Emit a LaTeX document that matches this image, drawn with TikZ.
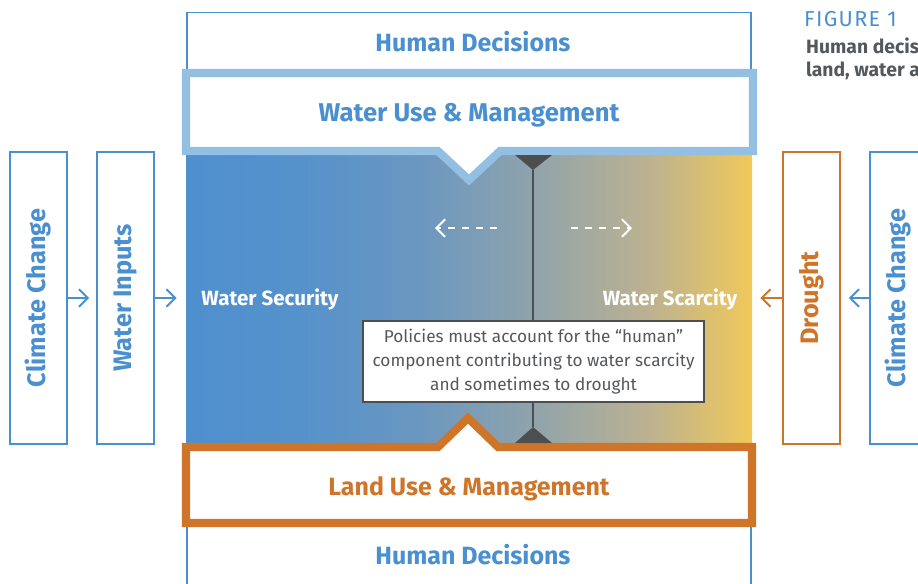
\documentclass[tikz,border=0pt]{standalone}
\usepackage{fontspec}
\setmainfont{Fira Sans}
\usetikzlibrary{arrows.meta}

\definecolor{cblue}{HTML}{4A8FCF}
\definecolor{lblue}{HTML}{93BFE3}
\definecolor{corange}{HTML}{CF752A}
\definecolor{dgrey}{HTML}{4D4E50}
\definecolor{tgrey}{HTML}{55585B}
\definecolor{shA}{HTML}{4E8FCE}
\definecolor{shB}{HTML}{5592CB}
\definecolor{shC}{HTML}{6A97C0}
\definecolor{shD}{HTML}{8FA3AC}
\definecolor{shE}{HTML}{BDB290}
\definecolor{shF}{HTML}{F0C95A}

\newcommand\pxu{0.02cm}
\pgfdeclarehorizontalshading{waterfield}{100bp}{color(0bp)=(shA); color(25bp)=(shA); color(35bp)=(shB); color(45.5bp)=(shC); color(55.5bp)=(shD); color(66bp)=(shE); color(75bp)=(shF); color(100bp)=(shF)}

\tikzset{
  decbox/.style={draw=cblue, line width=1.1pt, fill=white, minimum width=564*\pxu},
  sidebox/.style={draw=#1, line width=1.1pt, fill=white, rotate=90, minimum width=292*\pxu, minimum height=57*\pxu, inner sep=0pt, text=#1, font=\fontsize{14.4}{17}\selectfont\bfseries},
  sidearrow/.style={draw=#1, line width=1.1pt, -{Straight Barb[length=5pt, width=10pt, line width=1.1pt]}},
  mgmt/.style={line width=4.6pt, fill=white, line join=miter},
  mgmtlabel/.style={text=#1, font=\fontsize{14.6}{17}\selectfont\bfseries},
  fieldlabel/.style={text=white, font=\fontsize{11.7}{14}\selectfont\bfseries},
  shiftarrow/.style={draw=white, line width=1.1pt, dash pattern=on 4pt off 4pt, -{Straight Barb[length=5pt, width=10pt, line width=1.1pt]}},
  note/.style={draw=dgrey, line width=1.1pt, fill=white, text=tgrey, align=center, minimum width=341*\pxu, minimum height=81*\pxu, font=\fontsize{9.8}{13.5}\selectfont}
}

\begin{document}
\begin{tikzpicture}[x=\pxu, y=-\pxu]
\useasboundingbox (0,0) rectangle (918,583);
\clip (0,0) rectangle (918,583);

\node[shade, shading=waterfield, minimum width=566*\pxu, minimum height=292*\pxu, inner sep=0pt] (field) at (469,298) {};

\node[decbox, minimum height=67*\pxu] (decTop) at (469,46) {};
\node[decbox, minimum height=70*\pxu] (decBot) at (469,558) {};
\node[mgmtlabel=cblue, font=\fontsize{14.2}{17}\selectfont\bfseries] (decTopText) at (473,42) {Human Decisions};
\node[mgmtlabel=cblue, font=\fontsize{14.2}{17}\selectfont\bfseries] (decBotText) at (473,555) {Human Decisions};

\draw[mgmt, draw=lblue] (186,73) -- (753,73) -- (753,151) -- (500,151) -- (469,180) -- (438,151) -- (186,151) -- cycle;
\node[mgmtlabel=cblue] (waterUse) at (469,115) {Water Use \& Management};

\draw[mgmt, draw=corange] (186,447) -- (438,447) -- (468,418) -- (498,447) -- (752,447) -- (752,523) -- (186,523) -- cycle;
\node[mgmtlabel=corange, font=\fontsize{14.2}{17}\selectfont\bfseries] (landUse) at (469,489) {Land Use \& Management};

\coordinate (pivTop) at (533,170);
\coordinate (pivBot) at (533,427);
\fill[dgrey] (515,155) -- (552,155) -- (pivTop) -- cycle;
\fill[dgrey] (515,443) -- (552,443) -- (pivBot) -- cycle;
\draw[dgrey, line width=1.3pt] (pivTop) -- (pivBot);

\coordinate (secA) at (497,228);
\coordinate (secB) at (435,228);
\coordinate (scaA) at (571,228);
\coordinate (scaB) at (632,228);
\draw[shiftarrow] (secA) -- (secB);
\draw[shiftarrow] (scaA) -- (scaB);

\node[fieldlabel] (security) at (270,299) {Water Security};
\node[fieldlabel] (scarcity) at (670,299) {Water Scarcity};

\node[note] (policy) at (533.5,361.5) {Policies must account for the “human”\\component contributing to water scarcity\\and sometimes to drought};

\node[sidebox=cblue] (climL) at (38.5,298) {Climate Change};
\node[sidebox=cblue] (inputs) at (125.5,298) {Water Inputs};
\node[sidebox=corange] (drought) at (811.5,298) {Drought};
\node[sidebox=cblue] (climR) at (898.5,298) {Climate Change};

\draw[sidearrow=cblue, shorten >=7*\pxu] (climL) -- (inputs);
\draw[sidearrow=cblue, shorten >=9*\pxu] (inputs) -- (field);
\draw[sidearrow=corange, shorten >=8*\pxu] (drought) -- (field);
\draw[sidearrow=cblue, shorten >=8*\pxu] (climR) -- (drought);

\node[anchor=west, text=cblue, font=\fontsize{12.3}{14}\selectfont\addfontfeature{LetterSpace=6}] (figNo) at (798,19) {FIGURE 1};
\node[anchor=west, text=tgrey, font=\fontsize{11}{13}\selectfont\bfseries] (capA) at (800,46) {Human decis};
\node[anchor=west, text=tgrey, font=\fontsize{11}{13}\selectfont\bfseries] (capB) at (800,71) {land, water a};
\end{tikzpicture}
\end{document}
